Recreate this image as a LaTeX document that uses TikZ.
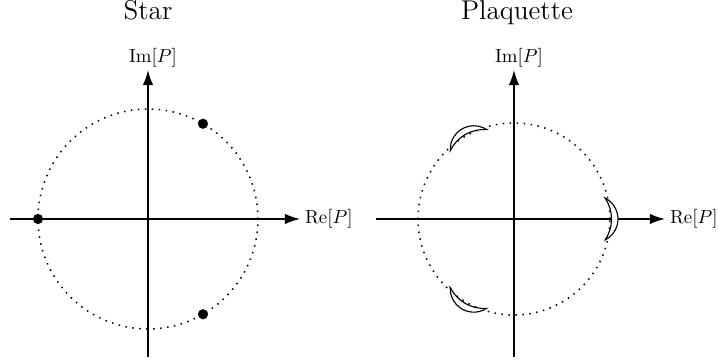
\documentclass[tikz,border=0pt]{standalone}
\usetikzlibrary{arrows.meta}
\begin{document}
\begin{tikzpicture}[x=0.53pt,y=0.53pt,
  axis/.style={line width=0.8pt,-{Latex[length=8pt,width=5.5pt]}},
  unitcirc/.style={line width=0.8pt,dash pattern=on 0.8pt off 2.9pt},
  eig/.style={circle,fill=black,inner sep=0pt,minimum size=5.4pt},
  lune/.style={draw=black,fill=white,line width=0.6pt,line join=miter},
  axlabel/.style={font=\normalsize},
  title/.style={font=\Large,anchor=base}]
\useasboundingbox (0,0) rectangle (718,361);
% ---------- Star ----------
\coordinate (LO) at (148,142);
\coordinate (Lxa) at (10,142);
\coordinate (Lxb) at (300,142);
\coordinate (Lya) at (148,4);
\coordinate (Lyb) at (148,291);
\draw[unitcirc] (LO) circle[radius=110];
\draw[axis] (Lxa) -- (Lxb);
\draw[axis] (Lya) -- (Lyb);
\node[axlabel,anchor=west,inner sep=2.5pt] (Lre) at (Lxb) {$\mathrm{Re}[P]$};
\node[axlabel,anchor=south,inner sep=1.2pt,xshift=2.6pt] (Lim) at (Lyb) {$\mathrm{Im}[P]$};
\node[title] (Ltitle) at (148,341) {Star};
\node[eig] (e1) at ([shift={(180:110)}]LO) {};
\node[eig] (e2) at ([shift={(60:110)}]LO) {};
\node[eig] (e3) at ([shift={(-60:110)}]LO) {};
% ---------- Plaquette ----------
\coordinate (RO) at (514,142);
\coordinate (Rxa) at (376,142);
\coordinate (Rxb) at (665,142);
\coordinate (Rya) at (514,4);
\coordinate (Ryb) at (514,291);
\draw[unitcirc] (RO) circle[radius=96];
\draw[axis] (Rxa) -- (Rxb);
\draw[axis] (Rya) -- (Ryb);
\node[axlabel,anchor=west,inner sep=2.5pt] (Rre) at (Rxb) {$\mathrm{Re}[P]$};
\node[axlabel,anchor=south,inner sep=1.2pt,xshift=2.6pt] (Rim) at (Ryb) {$\mathrm{Im}[P]$};
\node[title] (Rtitle) at (517,341) {Plaquette};
\foreach \a in {0,120,-120}{
  \draw[lune,shift={(RO)},rotate=\a]
    (91.1,-21) arc[start angle=-63.2,end angle=63.2,radius=23.5]
    arc[start angle=33.9,end angle=-33.9,radius=37.65] -- cycle;
}
\end{tikzpicture}
\end{document}
